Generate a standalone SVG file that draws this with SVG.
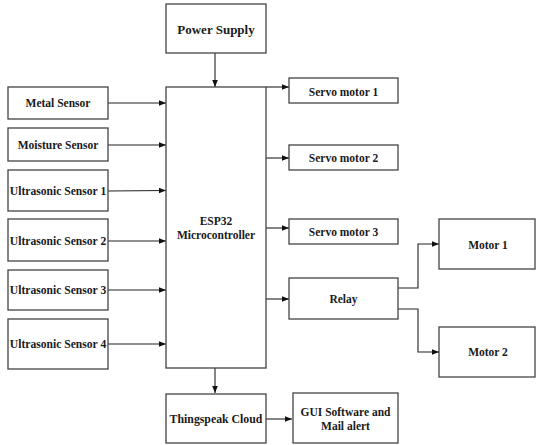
<svg xmlns="http://www.w3.org/2000/svg" width="536" height="445" viewBox="0 0 536 445" font-family="'Liberation Serif', 'Times New Roman', serif">
<defs>
<style>
rect{fill:#fff;stroke:#444;stroke-width:1.3}
text{font-family:'Liberation Serif','DejaVu Serif',serif;font-weight:bold;font-size:11.5px;fill:#1a1a1a;text-anchor:middle;dominant-baseline:central}
.c{fill:none;stroke:#222;stroke-width:1.1;marker-end:url(#a)}
</style>
<marker id="a" viewBox="0 0 10 10" refX="10" refY="5" markerWidth="7" markerHeight="7" markerUnits="userSpaceOnUse" orient="auto"><path d="M0,1 L10,5 L0,9 Z" fill="#111"/></marker>
</defs>
<rect width="536" height="445" style="fill:#fff;stroke:none"/>
<g id="connectors">
<path class="c" d="M215,53 V87"/>
<path class="c" d="M108,103 H166"/>
<path class="c" d="M108,145 H166"/>
<path class="c" d="M108,191 L166,190.5"/>
<path class="c" d="M108,241 H166"/>
<path class="c" d="M108,290 H166"/>
<path class="c" d="M108,344 H166"/>
<path class="c" d="M266,87 H289"/>
<path class="c" d="M266,158 H289"/>
<path class="c" d="M266,228 H289"/>
<path class="c" d="M266,299 H289"/>
<path class="c" d="M398,288 H418 V244 H439"/>
<path class="c" d="M398,309 H418 V352 H439"/>
<path class="c" d="M215,368 V393"/>
<path class="c" d="M266,419 H292"/>
</g>
<g id="power"><rect x="166" y="4" width="100" height="49"/><text x="216" y="29" style="font-size:13px">Power Supply</text></g>
<g id="esp32"><rect x="166" y="87" width="100" height="281"/><text x="216" y="221">ESP32</text><text x="216" y="235">Microcontroller</text></g>
<g id="metal"><rect x="8" y="87" width="100" height="32"/><text x="58" y="103">Metal Sensor</text></g>
<g id="moisture"><rect x="8" y="128" width="100" height="33"/><text x="58" y="145">Moisture Sensor</text></g>
<g id="us1"><rect x="8" y="170" width="100" height="41"/><text x="58" y="191" style="font-size:11.6px">Ultrasonic Sensor 1</text></g>
<g id="us2"><rect x="8" y="219" width="100" height="42"/><text x="58" y="241" style="font-size:11.6px">Ultrasonic Sensor 2</text></g>
<g id="us3"><rect x="8" y="270" width="100" height="40"/><text x="58" y="290" style="font-size:11.6px">Ultrasonic Sensor 3</text></g>
<g id="us4"><rect x="8" y="319" width="100" height="50"/><text x="58" y="344" style="font-size:11.6px">Ultrasonic Sensor 4</text></g>
<g id="servo1"><rect x="289" y="78" width="109" height="25"/><text x="343.5" y="92">Servo motor 1</text></g>
<g id="servo2"><rect x="289" y="145" width="109" height="25"/><text x="343.5" y="158">Servo motor 2</text></g>
<g id="servo3"><rect x="289" y="219" width="109" height="25"/><text x="343.5" y="232">Servo motor 3</text></g>
<g id="relay"><rect x="289" y="278" width="109" height="41"/><text x="343.5" y="299">Relay</text></g>
<g id="motor1"><rect x="439" y="219" width="96" height="50"/><text x="488" y="245">Motor 1</text></g>
<g id="motor2"><rect x="439" y="327" width="96" height="50"/><text x="488" y="352">Motor 2</text></g>
<g id="thingspeak"><rect x="166" y="394" width="100" height="49"/><text x="216" y="419" style="font-size:11.8px">Thingspeak Cloud</text></g>
<g id="gui"><rect x="293" y="393" width="105" height="50"/><text x="345.5" y="412">GUI Software and</text><text x="345.5" y="426">Mail alert</text></g>
</svg>
